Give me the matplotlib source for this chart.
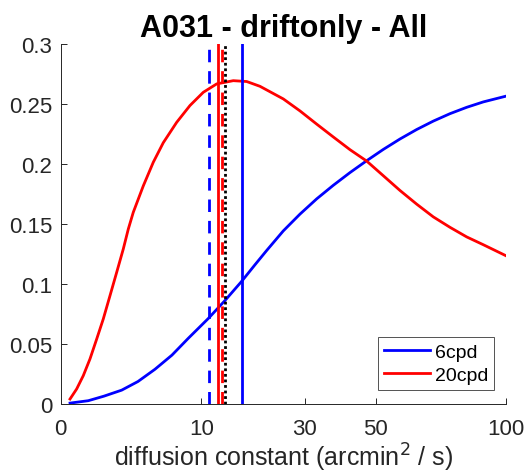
import numpy as np
import matplotlib
matplotlib.use("Agg")
import matplotlib.pyplot as plt

plt.rcParams['font.family'] = ['Liberation Sans', 'DejaVu Sans']

# diffusion constant values (arcmin^2/s) and curve heights
x_20 = [0.044, 0.129, 0.258, 0.433, 0.654, 0.915, 1.226, 1.582, 1.976, 2.305,
        2.658, 3.441, 4.324, 5.308, 6.786, 8.431, 10.255, 12.273, 15.024, 17.447,
        20.031, 24.989, 28.879, 33.05, 37.475, 42.207, 47.222, 52.484, 58.058,
        63.914, 70.013, 76.43, 83.127, 90.064, 100]
y_20 = [0.0044, 0.0128, 0.0239, 0.0378, 0.0544, 0.0711, 0.0905, 0.110, 0.1294,
        0.146, 0.160, 0.182, 0.2017, 0.218, 0.235, 0.249, 0.260, 0.267, 0.2697,
        0.269, 0.2650, 0.2545, 0.2445, 0.2335, 0.2228, 0.2122, 0.2027, 0.1905,
        0.1782, 0.1668, 0.1562, 0.1475, 0.1395, 0.1330, 0.1238]

x_6 = [0.044, 0.384, 0.946, 1.877, 3.013, 4.484, 6.247, 8.211, 10.987, 13.614,
       16.522, 19.039, 21.401, 24.989, 28.879, 33.05, 37.475, 42.207, 47.222,
       52.484, 58.058, 63.914, 70.013, 76.43, 83.127, 90.064, 100]
y_6 = [0.001, 0.003, 0.0068, 0.0118, 0.019, 0.0292, 0.041, 0.055, 0.0715, 0.0865,
       0.1025, 0.1163, 0.1282, 0.1445, 0.1585, 0.1712, 0.1825, 0.1931, 0.2030,
       0.2124, 0.2211, 0.2290, 0.2360, 0.2422, 0.2475, 0.2520, 0.2568]

# vertical markers
d_6_dash = 11.05
d_6_solid = 16.52
d_20_solid = 12.53
d_20_dash = 13.07
d_black = 13.61

xticks = [0, 10, 30, 50, 100]
yticks = [0, 0.05, 0.1, 0.15, 0.2, 0.25, 0.3]
ytick_labels = ['0', '0.05', '0.1', '0.15', '0.2', '0.25', '0.3']

fig = plt.figure(figsize=(5.29, 4.77), dpi=100)
ax = fig.add_axes([0.1147, 0.1503, 0.8418, 0.7547])
ax.set_xscale('function', functions=(np.sqrt, np.square))

ax.plot(x_6, y_6, color='#0000ff', lw=2, label='6cpd')
ax.plot(x_20, y_20, color='#ff0000', lw=2, label='20cpd')

ax.axvline(d_6_dash, color='#0000ff', lw=2, ls=(0, (4.5, 3.2)))
ax.axvline(d_20_solid, color='#ff0000', lw=2)
ax.axvline(d_20_dash, color='#ff0000', lw=2, ls=(0, (4.5, 3.2)))
ax.axvline(d_black, color='black', lw=2, ls=(0, (1, 1)))
ax.axvline(d_6_solid, color='#0000ff', lw=2)

ax.set_xlim(0, 100)
ax.set_ylim(0, 0.3)
ax.set_xticks(xticks)
ax.set_xticklabels([str(t) for t in xticks])
ax.set_yticks(yticks)
ax.set_yticklabels(ytick_labels)

for s in ['top', 'right']:
    ax.spines[s].set_visible(False)
for s in ['left', 'bottom']:
    ax.spines[s].set_color('#262626')
    ax.spines[s].set_linewidth(0.7)
ax.tick_params(direction='in', length=4, width=0.7, colors='#262626',
               labelsize=16, labelcolor='#262626')
ax.tick_params(axis='x', pad=10)
ax.tick_params(axis='y', pad=6)

ax.set_xlabel('diffusion constant (arcmin$^2$ / s)', fontsize=18,
              color='#262626', labelpad=1)
ax.set_title('A031 - driftonly - All', fontsize=22, fontweight='bold', pad=6)

leg = ax.legend(loc='lower right', bbox_to_anchor=(0.9737, 0.0397),
                borderaxespad=0, fontsize=14, handlelength=2.37,
                frameon=True, fancybox=False, borderpad=0.3,
                labelspacing=0.3, handletextpad=0.25)
leg.get_frame().set_edgecolor('#262626')
leg.get_frame().set_linewidth(0.7)

fig.savefig('out.png', dpi=100)
